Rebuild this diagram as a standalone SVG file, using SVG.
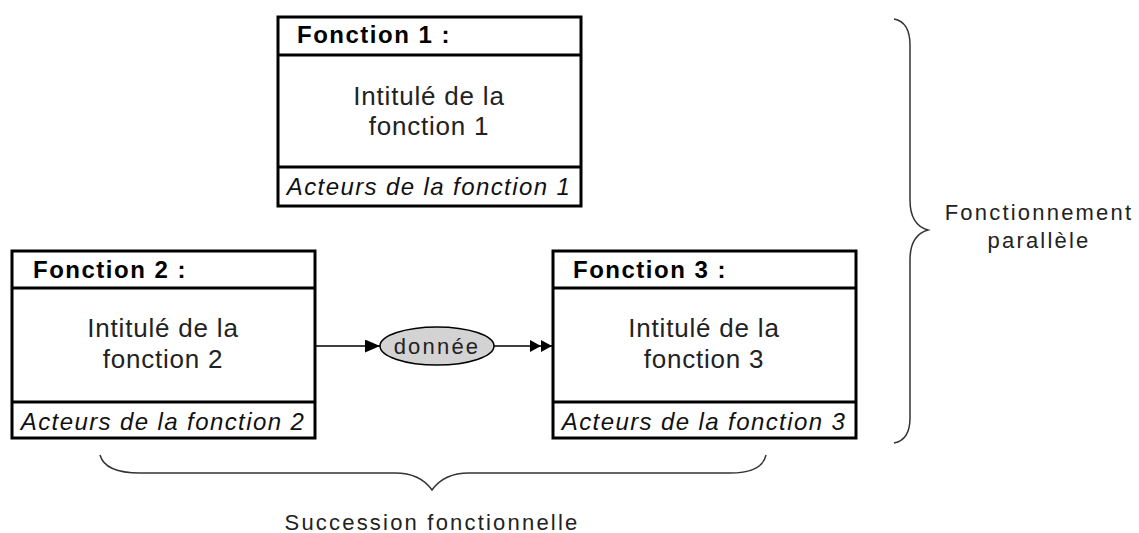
<svg xmlns="http://www.w3.org/2000/svg" width="1139" height="533" viewBox="0 0 1139 533">
<style>
.box{fill:#fff;stroke:#000;stroke-width:3}
.div{stroke:#000;stroke-width:3}
.hdr{font-family:"Liberation Sans",Arial,sans-serif;font-weight:bold;font-size:24px;letter-spacing:1.5px;fill:#000}
.body{font-family:"Liberation Sans",Arial,sans-serif;font-size:26px;letter-spacing:0.8px;fill:#222;text-anchor:middle}
.foot{font-family:"Liberation Sans",Arial,sans-serif;font-style:italic;font-size:24px;letter-spacing:1.4px;fill:#111;text-anchor:middle}
.lbl{font-family:"Liberation Sans",Arial,sans-serif;font-size:22px;letter-spacing:2.2px;fill:#222;text-anchor:middle}
.brace{fill:none;stroke:#333;stroke-width:1.5}
.conn{stroke:#000;stroke-width:1.5;fill:none}
</style>
<defs>
<marker id="arr" viewBox="0 0 10 10" refX="10" refY="5" markerWidth="15" markerHeight="13" markerUnits="userSpaceOnUse" orient="auto" preserveAspectRatio="none">
<path d="M0,0 L10,5 L0,10 Z" fill="#000"/>
</marker>
<marker id="arr2" viewBox="0 0 20 10" refX="20" refY="5" markerWidth="22" markerHeight="12" markerUnits="userSpaceOnUse" orient="auto" preserveAspectRatio="none">
<path d="M0,0 L10,5 L0,10 Z M10,0 L20,5 L10,10 Z" fill="#000"/>
</marker>
</defs>
<g id="fonction1">
<rect class="box" x="278" y="17" width="303" height="189"/>
<line class="div" x1="278" y1="55" x2="581" y2="55"/>
<line class="div" x1="278" y1="167" x2="581" y2="167"/>
<text class="hdr" x="297" y="43">Fonction 1 :</text>
<text class="body" x="429" y="105">Intitulé de la</text>
<text class="body" x="429" y="135">fonction 1</text>
<text class="foot" x="429" y="195">Acteurs de la fonction 1</text>
</g>
<g id="fonction2">
<rect class="box" x="12" y="251" width="303" height="187"/>
<line class="div" x1="12" y1="288" x2="315" y2="288"/>
<line class="div" x1="12" y1="402" x2="315" y2="402"/>
<text class="hdr" x="33" y="278">Fonction 2 :</text>
<text class="body" x="163" y="337">Intitulé de la</text>
<text class="body" x="163" y="368">fonction 2</text>
<text class="foot" x="163" y="430">Acteurs de la fonction 2</text>
</g>
<g id="fonction3">
<rect class="box" x="553" y="251" width="303" height="187"/>
<line class="div" x1="553" y1="288" x2="856" y2="288"/>
<line class="div" x1="553" y1="402" x2="856" y2="402"/>
<text class="hdr" x="573" y="278">Fonction 3 :</text>
<text class="body" x="704" y="337">Intitulé de la</text>
<text class="body" x="704" y="368">fonction 3</text>
<text class="foot" x="704" y="430">Acteurs de la fonction 3</text>
</g>
<g id="donnee">
<ellipse cx="437" cy="346" rx="57" ry="19" fill="#d3d3d3" stroke="#000" stroke-width="1.5"/>
<text class="lbl" x="437" y="354">donnée</text>
</g>
<g id="connectors">
<line class="conn" x1="316" y1="346" x2="380" y2="346" marker-end="url(#arr)"/>
<line class="conn" x1="494" y1="346" x2="552" y2="346" marker-end="url(#arr2)"/>
</g>
<g id="braces">
<path class="brace" d="M894,19 Q910,22 910,45 L910,200 Q910,225 928,230 Q910,235 910,260 L910,418 Q910,440 894,443"/>
<path class="brace" d="M100,455 Q105,473 140,473 L395,473 Q420,473 432,490 Q444,473 469,473 L730,473 Q762,473 766,455"/>
</g>
<text class="lbl" x="1039" y="220">Fonctionnement</text>
<text class="lbl" x="1039" y="248">parallèle</text>
<text class="lbl" x="432" y="530">Succession fonctionnelle</text>
</svg>
